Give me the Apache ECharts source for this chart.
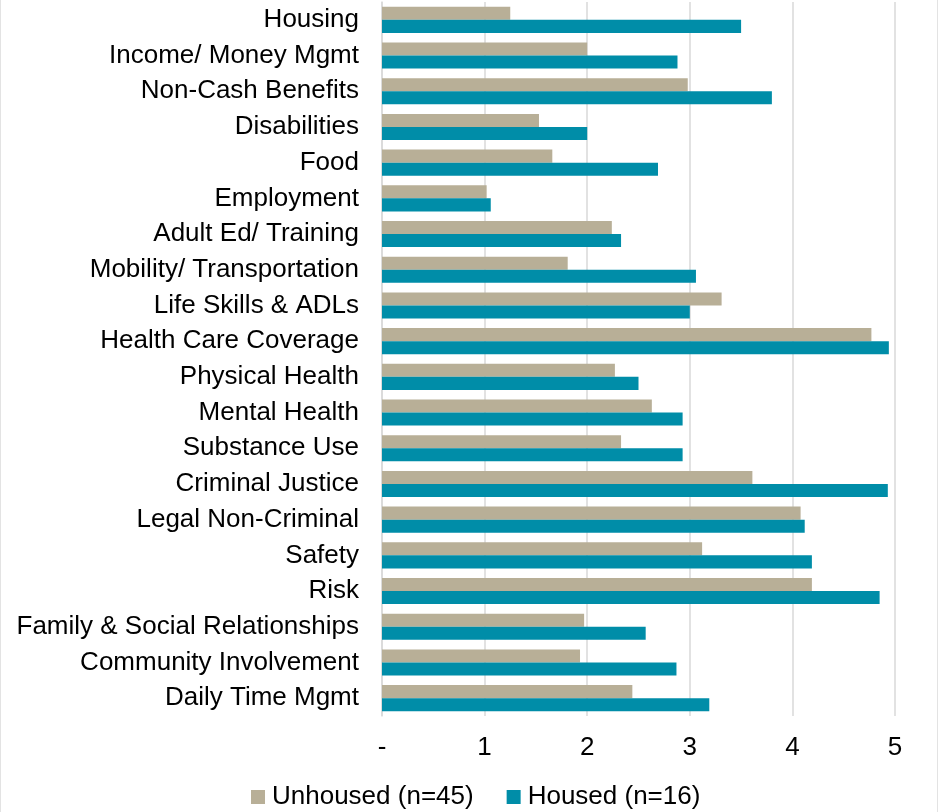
<!DOCTYPE html>
<html>
<head>
<meta charset="utf-8">
<script src="https://cdn.jsdelivr.net/npm/echarts@6/dist/echarts.min.js"></script>
<style>
  html, body { margin: 0; padding: 0; background: #fff; }
  #chart { width: 936px; height: 812px; border-left: 1px solid #e3e3e3; border-right: 1px solid #e3e3e3; }
</style>
</head>
<body>
<div id="chart"></div>
<script>
// Need domains, listed top to bottom
const categories = [
  'Housing', 'Income/ Money Mgmt', 'Non-Cash Benefits', 'Disabilities', 'Food',
  'Employment', 'Adult Ed/ Training', 'Mobility/ Transportation', 'Life Skills & ADLs',
  'Health Care Coverage', 'Physical Health', 'Mental Health', 'Substance Use',
  'Criminal Justice', 'Legal Non-Criminal', 'Safety', 'Risk',
  'Family & Social Relationships', 'Community Involvement', 'Daily Time Mgmt'
];

// Average scores per domain
const unhoused = [1.25, 2.00, 2.98, 1.53, 1.66, 1.02, 2.24, 1.81, 3.31, 4.77,
                  2.27, 2.63, 2.33, 3.61, 4.08, 3.12, 4.19, 1.97, 1.93, 2.44];
const housed   = [3.50, 2.88, 3.80, 2.00, 2.69, 1.06, 2.33, 3.06, 3.00, 4.94,
                  2.50, 2.93, 2.93, 4.93, 4.12, 4.19, 4.85, 2.57, 2.87, 3.19];

const seriesNames = ['Unhoused (n=45)', 'Housed (n=16)'];
const xTicks = ['-', '1', '2', '3', '4', '5'];

const FONT = 'Liberation Sans, Arial, sans-serif';
const chart = echarts.init(document.getElementById('chart'), null, { renderer: 'canvas' });

chart.setOption({
  animation: false,
  color: ['#B8AF97', '#008DA8'],
  textStyle: { fontFamily: FONT },
  grid: { left: 381, right: 42, top: 2, bottom: 96, containLabel: false },
  legend: {
    data: seriesNames,
    bottom: 2,
    left: 250,
    padding: 0,
    itemWidth: 14,
    itemHeight: 14,
    itemGap: 33,
    icon: 'rect',
    textStyle: { fontSize: 26, color: '#000', fontFamily: FONT, padding: [0, 0, 0, 2] }
  },
  xAxis: {
    type: 'value',
    min: 0,
    max: 5,
    interval: 1,
    axisLine: { show: false },
    axisTick: { show: false },
    splitLine: { show: true, lineStyle: { color: '#d9d9d9', width: 1.5 } },
    axisLabel: {
      fontSize: 26,
      color: '#000',
      margin: 19,
      fontFamily: FONT,
      formatter: v => xTicks[Math.round(v)]
    }
  },
  yAxis: {
    type: 'category',
    data: categories,
    inverse: true,
    axisLine: { show: true, lineStyle: { color: '#d9d9d9', width: 1.5 } },
    axisTick: { show: false },
    axisLabel: { fontSize: 26, color: '#000', margin: 23, fontFamily: FONT }
  },
  series: [
    {
      name: seriesNames[0],
      type: 'bar',
      data: unhoused,
      barGap: '0%',
      barCategoryGap: '27%'
    },
    {
      name: seriesNames[1],
      type: 'bar',
      data: housed,
      barGap: '0%',
      barCategoryGap: '27%'
    }
  ]
});
</script>
</body>
</html>
